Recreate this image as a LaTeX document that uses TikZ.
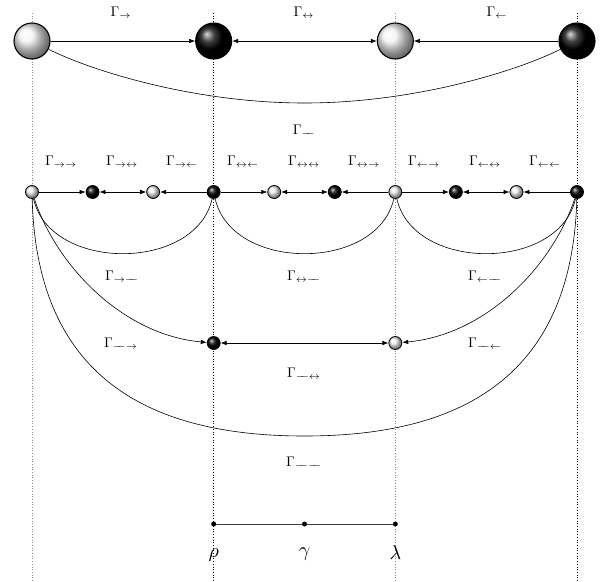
\documentclass[tikz,border=0pt]{standalone}
\usetikzlibrary{arrows.meta,shadings}
\newcommand\dsh{\mathrel{\relbar\mkern-7mu\relbar}}
\begin{document}
\begin{tikzpicture}[x=1pt,y=-1pt,
  conn/.style={line width=0.6pt},
  tipR/.style={conn,-{Latex[length=6pt,width=4.5pt]}},
  tipB/.style={conn,{Latex[length=6pt,width=4.5pt]}-{Latex[length=6pt,width=4.5pt]}},
  vlineg/.style={dotted,line width=0.7pt,black!45},
  vlinek/.style={dotted,line width=0.7pt,black},
  bigL/.style={circle,draw,line width=1.1pt,minimum size=36pt,inner sep=0pt,shading=ball,ball color=gray!10},
  bigD/.style={circle,draw,line width=1.1pt,minimum size=36pt,inner sep=0pt,shading=ball,ball color=black},
  smL/.style={circle,draw,line width=0.8pt,minimum size=13pt,inner sep=0pt,shading=ball,ball color=gray!10},
  smD/.style={circle,draw,line width=0.8pt,minimum size=13pt,inner sep=0pt,shading=ball,ball color=black},
  dotn/.style={circle,fill=black,minimum size=5pt,inner sep=0pt},
  lab/.style={inner sep=0pt,scale=1.4},
  glab/.style={inner sep=0pt,scale=2}
]
\useasboundingbox (0,0) rectangle (612,581);
% vertical guides
\draw[vlineg] (32,13) -- (32,581);
\draw[vlinek] (213.67,13) -- (213.67,581);
\draw[vlineg] (395.33,13) -- (395.33,581);
\draw[vlinek] (577,13) -- (577,581);

% top row
\node[bigL] (t1) at (32,41) {};
\node[bigD] (t2) at (213.67,41) {};
\node[bigL] (t3) at (395.33,41) {};
\node[bigD] (t4) at (577,41) {};
\coordinate (tm) at (304.5,103);
\draw[tipR] (t1) -- (t2);
\draw[tipB] (t2) -- (t3);
\draw[tipR] (t4) -- (t3);
\draw[conn] (t1) .. controls +(60,30) and +(-110,0) .. (tm) .. controls +(110,0) and +(-60,30) .. (t4);
\node[lab] (l1) at (121,13) {$\Gamma_{\rightarrow}$};
\node[lab] (l2) at (304,13) {$\Gamma_{\leftrightarrow}$};
\node[lab] (l3) at (497,13) {$\Gamma_{\leftarrow}$};
\node[lab] (l4) at (304,131) {$\Gamma_{\dsh}$};

% middle row
\node[smL] (m1) at (32,192) {};
\node[smD] (m2) at (92.56,192) {};
\node[smL] (m3) at (153.11,192) {};
\node[smD] (m4) at (213.67,192) {};
\node[smL] (m5) at (274.22,192) {};
\node[smD] (m6) at (334.78,192) {};
\node[smL] (m7) at (395.33,192) {};
\node[smD] (m8) at (455.89,192) {};
\node[smL] (m9) at (516.44,192) {};
\node[smD] (m10) at (577,192) {};
\draw[tipR] (m1) -- (m2);
\draw[tipB] (m2) -- (m3);
\draw[tipR] (m4) -- (m3);
\draw[tipR] (m4) -- (m5);
\draw[tipB] (m5) -- (m6);
\draw[tipR] (m7) -- (m6);
\draw[tipR] (m7) -- (m8);
\draw[tipB] (m8) -- (m9);
\draw[tipR] (m10) -- (m9);
\node[lab] at (61,162) {$\Gamma_{\rightarrow\rightarrow}$};
\node[lab] at (122,162) {$\Gamma_{\rightarrow\leftrightarrow}$};
\node[lab] at (182,162) {$\Gamma_{\rightarrow\leftarrow}$};
\node[lab] at (243,162) {$\Gamma_{\leftrightarrow\leftarrow}$};
\node[lab] at (304,162) {$\Gamma_{\leftrightarrow\leftrightarrow}$};
\node[lab] at (364,162) {$\Gamma_{\leftrightarrow\rightarrow}$};
\node[lab] at (424,162) {$\Gamma_{\leftarrow\rightarrow}$};
\node[lab] at (485,162) {$\Gamma_{\leftarrow\leftrightarrow}$};
\node[lab] at (545,162) {$\Gamma_{\leftarrow\leftarrow}$};

% U curves
\draw[conn] (m1) .. controls +(18,80) and +(-18,80) .. (m4);
\draw[conn] (m4) .. controls +(18,80) and +(-18,80) .. (m7);
\draw[conn] (m7) .. controls +(18,80) and +(-18,80) .. (m10);
\node[lab] at (122,277) {$\Gamma_{\rightarrow\dsh}$};
\node[lab] at (304,277) {$\Gamma_{\leftrightarrow\dsh}$};
\node[lab] at (485,277) {$\Gamma_{\leftarrow\dsh}$};

% lower row
\node[smD] (r1) at (213.67,343) {};
\node[smL] (r2) at (395.33,343) {};
\draw[tipR] (m1) .. controls +(25,75) and +(-90,-8) .. (r1);
\draw[tipR] (m10) .. controls +(-25,75) and +(90,-8) .. (r2);
\draw[tipB] (r1) -- (r2);
\node[lab] at (121,344) {$\Gamma_{\dsh\rightarrow}$};
\node[lab] at (485,344) {$\Gamma_{\dsh\leftarrow}$};
\node[lab] at (304,374) {$\Gamma_{\dsh\leftrightarrow}$};

% big curve
\coordinate (bm) at (304.5,436);
\draw[conn] (m1) .. controls +(5,190) and +(-150,0) .. (bm) .. controls +(150,0) and +(-5,190) .. (m10);
\node[lab] at (304,463) {$\Gamma_{\dsh\dsh}$};

% bottom scale
\node[dotn] (p1) at (213.67,524) {};
\node[dotn] (p2) at (304.5,524) {};
\node[dotn] (p3) at (395.33,524) {};
\draw[line width=0.9pt,black!75] (p1) -- (p2) -- (p3);
\node[glab] at (213.67,555) {$\rho$};
\node[glab] at (304.5,554) {$\gamma$};
\node[glab] at (395.33,553) {$\lambda$};
\end{tikzpicture}
\end{document}
